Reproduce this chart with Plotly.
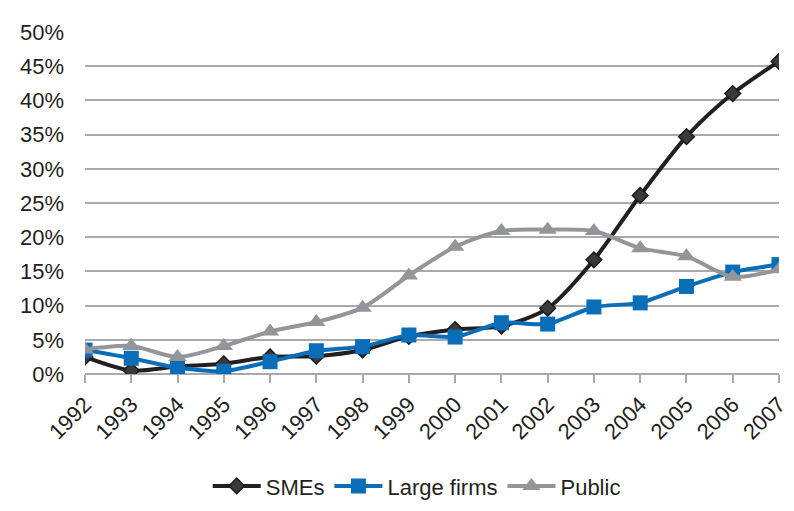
"""
SMEs vs large firms vs public sector share, 1992-2007.
"""

import plotly.graph_objects as go

# -------------------------------------------------
# DATA
# -------------------------------------------------

years = list(range(1992, 2008))

smes = [2.5, 0.5, 1.1, 1.5, 2.5, 2.6, 3.5, 5.5, 6.5, 7.0,
        9.6, 16.7, 26.1, 34.7, 41.0, 45.7]

large_firms = [3.5, 2.3, 0.9, 0.4, 1.8, 3.4, 4.0, 5.7, 5.4, 7.5,
               7.3, 9.8, 10.4, 12.8, 14.9, 16.0]

public = [3.6, 4.1, 2.5, 4.1, 6.2, 7.6, 9.7, 14.4, 18.6, 20.9,
          21.1, 20.9, 18.4, 17.2, 14.2, 15.3]

y_ticks = list(range(0, 55, 5))
y_tick_labels = [f"{v}%" for v in y_ticks]

TEXT = "#231F20"
FONT = "Liberation Sans, Arial, sans-serif"

# -------------------------------------------------
# FIGURE
# -------------------------------------------------

fig = go.Figure()

fig.add_trace(go.Scatter(
    x=years, y=smes, name="SMEs",
    mode="lines+markers",
    line=dict(color="#231F20", width=4, shape="spline", smoothing=0.8),
    marker=dict(symbol="diamond", size=12, color="#3a3a3a",
                line=dict(color="#1a1a1a", width=1.5)),
))

fig.add_trace(go.Scatter(
    x=years, y=large_firms, name="Large firms",
    mode="lines+markers",
    line=dict(color="#0A6DB8", width=4, shape="spline", smoothing=0.5),
    marker=dict(symbol="square", size=15, color="#0A6DB8"),
))

fig.add_trace(go.Scatter(
    x=years, y=public, name="Public",
    mode="lines+markers",
    line=dict(color="#939598", width=4, shape="spline", smoothing=0.8),
    marker=dict(symbol="triangle-up", size=16, color="#939598"),
))

# page body keeps its 8px margin, the margins below allow for it
fig.update_layout(
    width=794,
    height=511,
    paper_bgcolor="white",
    plot_bgcolor="white",
    font=dict(family=FONT, size=22, color=TEXT),
    margin=dict(l=64, r=12, t=13, b=141),
    showlegend=True,
    legend=dict(
        orientation="h",
        x=0.478, xanchor="center",
        y=-0.328, yanchor="middle",
        font=dict(size=22, color=TEXT),
        itemwidth=48,
        tracegroupgap=0,
    ),
)

fig.update_xaxes(
    range=[1992, 2007],
    tickmode="array",
    tickvals=years,
    ticktext=[str(y) for y in years],
    tickangle=-45,
    ticks="outside",
    ticklen=8,
    tickcolor="#A7A9AC",
    tickwidth=2,
    showline=False,
    showgrid=False,
    zeroline=False,
    tickfont=dict(size=22, color=TEXT),
)

fig.update_yaxes(
    range=[0, 50],
    tickmode="array",
    tickvals=y_ticks,
    ticktext=y_tick_labels,
    showgrid=True,
    gridcolor="#A7A9AC",
    gridwidth=2,
    zeroline=True,
    zerolinecolor="#A7A9AC",
    zerolinewidth=2,
    showline=False,
    ticklabelstandoff=20,
    tickfont=dict(size=22, color=TEXT),
)

fig.write_html("out.html", config={"displayModeBar": False})
